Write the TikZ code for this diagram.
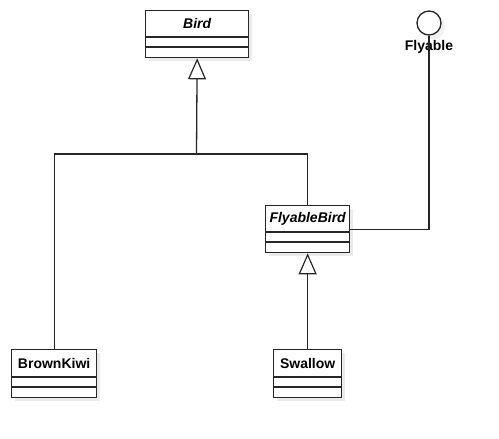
\documentclass[tikz,border=0pt]{standalone}
\usepackage{fontspec}
\setmainfont{Liberation Sans}
\usetikzlibrary{arrows.meta,calc}
\begin{document}
\begin{tikzpicture}[x=1pt,y=-1pt,
  classbox/.style={draw=black!85, line width=1.3pt, fill=white, anchor=north west, inner sep=0pt},
  shadowbox/.style={fill=black!8, draw=none, anchor=north west, inner sep=0pt},
  cname/.style={font=\fontsize{14}{16}\selectfont\bfseries, inner sep=0pt},
  aname/.style={font=\fontsize{14}{16}\selectfont\bfseries\itshape, inner sep=0pt},
  conn/.style={draw=black!85, line width=1.3pt},
  inh/.style={conn, -{Triangle[open, width=18pt, length=21pt, line width=1.2pt]}}
]
\useasboundingbox (0,0) rectangle (499,439);
% shadows
\node[shadowbox, minimum width=103pt, minimum height=47pt] (birdsh) at (149,14) {};
\node[shadowbox, minimum width=84pt, minimum height=47pt] (fbsh) at (269,209) {};
\node[shadowbox, minimum width=85pt, minimum height=48pt] (kiwish) at (15,353) {};
\node[shadowbox, minimum width=68pt, minimum height=48pt] (swsh) at (277,353) {};
\fill[black!6] (433,27) circle (12);
% boxes
\node[classbox, minimum width=103pt, minimum height=47pt] (bird) at (145,10) {};
\node[classbox, minimum width=84pt, minimum height=47pt] (fb) at (265,205) {};
\node[classbox, minimum width=85pt, minimum height=48pt] (kiwi) at (11,349) {};
\node[classbox, minimum width=68pt, minimum height=48pt] (sw) at (273,349) {};
% compartments
\draw[conn] ($(bird.north west)+(0,27)$) -- ($(bird.north east)+(0,27)$);
\draw[conn] ($(bird.north west)+(0,37)$) -- ($(bird.north east)+(0,37)$);
\draw[conn] ($(fb.north west)+(0,27)$) -- ($(fb.north east)+(0,27)$);
\draw[conn] ($(fb.north west)+(0,37)$) -- ($(fb.north east)+(0,37)$);
\draw[conn] ($(kiwi.north west)+(0,28)$) -- ($(kiwi.north east)+(0,28)$);
\draw[conn] ($(kiwi.north west)+(0,38)$) -- ($(kiwi.north east)+(0,38)$);
\draw[conn] ($(sw.north west)+(0,28)$) -- ($(sw.north east)+(0,28)$);
\draw[conn] ($(sw.north west)+(0,38)$) -- ($(sw.north east)+(0,38)$);
% names
\node[aname] (birdname) at ($(bird.north)+(0,13.5)$) {Bird};
\node[aname] (fbname) at ($(fb.north)+(0,13.5)$) {FlyableBird};
\node[cname] (kiwiname) at ($(kiwi.north)+(0,14)$) {BrownKiwi};
\node[cname] (swname) at ($(sw.north)+(0,14)$) {Swallow};
% interface
\node[circle, draw=black!85, line width=1.3pt, fill=white, minimum size=24pt, inner sep=0pt] (flyable) at (429,23) {};
\node[cname] (flyablename) at (429,47) {Flyable};
% connectors
\coordinate (j) at (196.5,154);
\draw[conn] (kiwi.north) |- (j);
\draw[conn] (fb.north) |- (j);
\draw[inh] (j) -- (bird.south);
\draw[inh] (sw.north) -- (fb.south);
\draw[conn] (fb.east) -| (flyable.south);
\end{tikzpicture}
\end{document}
